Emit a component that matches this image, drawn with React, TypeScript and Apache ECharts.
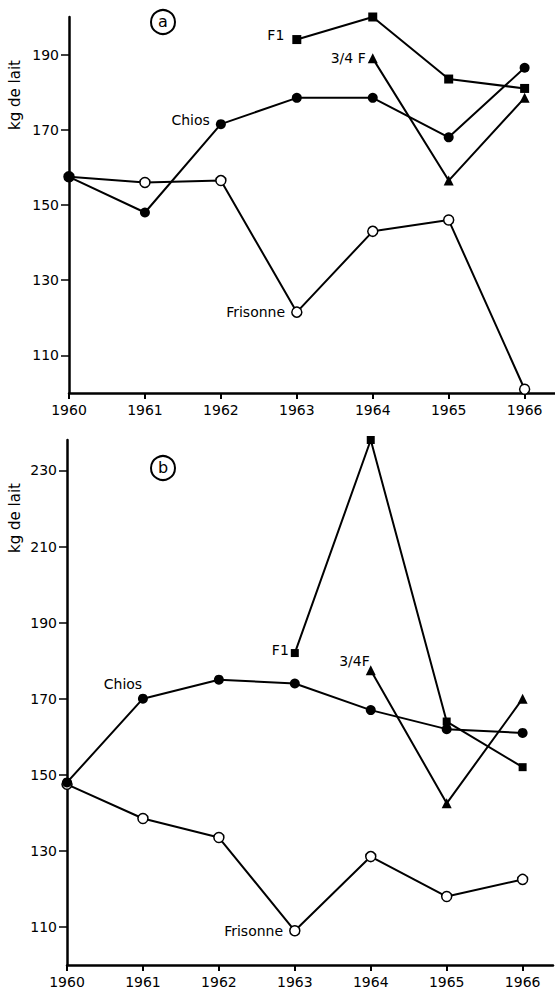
import React, { useEffect, useRef } from "react";
import * as echarts from "echarts";

const years = [1960, 1961, 1962, 1963, 1964, 1965, 1966];

// Panel a
const aChios = [157.5, 148, 171.5, 178.5, 178.5, 168, 186.5];
const aFrisonne = [157.5, 156, 156.5, 121.5, 143, 146, 101];
const aF1 = [null, null, null, 194, 200, 183.5, 181];
const aTroisQuartsF = [null, null, null, null, 189, 156.5, 178.5];
const yTicksA = [110, 130, 150, 170, 190];

// Panel b
const bChios = [148, 170, 175, 174, 167, 162, 161];
const bFrisonne = [147.5, 138.5, 133.5, 109, 128.5, 118, 122.5];
const bF1 = [null, null, null, 182, 238, 164, 152];
const bTroisQuartsF = [null, null, null, null, 177.5, 142.5, 170];
const yTicksB = [110, 130, 150, 170, 190, 210, 230];

const FONT = "DejaVu Sans";
const BLACK = "#000";

function makeSeries(
  name: string,
  values: (number | null)[],
  idx: number,
  symbol: string,
  size: number,
  open: boolean,
  labelIndex: number,
  labelText: string,
  labelOpts: any
) {
  const data: any[] = [];
  values.forEach((v, i) => {
    if (v === null) return;
    const item: any = { value: [years[i], v] };
    if (i === labelIndex) {
      item.label = {
        show: true,
        formatter: labelText,
        color: BLACK,
        fontSize: 14,
        fontFamily: FONT,
        ...labelOpts,
      };
    }
    data.push(item);
  });
  return {
    name,
    type: "line",
    xAxisIndex: idx,
    yAxisIndex: idx,
    data,
    symbol,
    symbolSize: size,
    showSymbol: true,
    clip: false,
    lineStyle: { color: BLACK, width: 2 },
    itemStyle: open
      ? { color: "#fff", borderColor: BLACK, borderWidth: 1.5 }
      : { color: BLACK, borderColor: BLACK, borderWidth: 0 },
    label: { show: false },
    z: open ? 2 : 3,
  };
}

function xAxis(gridIndex: number) {
  return {
    type: "value",
    gridIndex,
    min: 1960,
    max: 1966.4,
    axisLine: { show: true, lineStyle: { color: BLACK, width: 2.5 } },
    axisTick: {
      show: true,
      length: 6,
      customValues: years,
      lineStyle: { color: BLACK, width: 2 },
    },
    axisLabel: {
      customValues: years,
      formatter: (v: number) => String(v),
      color: BLACK,
      fontSize: 14,
      fontFamily: FONT,
      margin: 10,
    },
    splitLine: { show: false },
  };
}

function yAxis(gridIndex: number, min: number, max: number, ticks: number[]) {
  return {
    type: "value",
    gridIndex,
    min,
    max,
    axisLine: { show: true, lineStyle: { color: BLACK, width: 2.5 } },
    axisTick: {
      show: true,
      length: 8,
      customValues: ticks,
      lineStyle: { color: BLACK, width: 1.5 },
    },
    axisLabel: {
      customValues: ticks,
      formatter: (v: number) => String(v),
      color: BLACK,
      fontSize: 14,
      fontFamily: FONT,
      margin: 10,
    },
    splitLine: { show: false },
  };
}

export default function App() {
  const ref = useRef<HTMLDivElement>(null);
  useEffect(() => {
    if (!ref.current) return;
    const chart = echarts.init(ref.current, null, { renderer: "svg" });
    const option: any = {
      animation: false,
      backgroundColor: "#fff",
      grid: [
        { left: 69, top: 17, width: 486, height: 376 },
        { left: 67, top: 440, width: 486, height: 525 },
      ],
      xAxis: [xAxis(0), xAxis(1)],
      yAxis: [yAxis(0, 100, 200, yTicksA), yAxis(1, 100, 238, yTicksB)],
      series: [
        makeSeries("Frisonne", aFrisonne, 0, "circle", 10, true, 3, "Frisonne", { position: "left", distance: 6 }),
        makeSeries("Chios", aChios, 0, "circle", 10, false, 2, "Chios", { position: "left", distance: 6, offset: [0, -4] }),
        makeSeries("F1", aF1, 0, "rect", 9, false, 3, "F1", { position: "left", distance: 8, offset: [0, -5] }),
        makeSeries("3/4 F", aTroisQuartsF, 0, "triangle", 10, false, 4, "3/4 F", { position: "left", distance: 2 }),
        makeSeries("Frisonne", bFrisonne, 1, "circle", 10, true, 3, "Frisonne", { position: "left", distance: 6 }),
        makeSeries("Chios", bChios, 1, "circle", 10, false, 1, "Chios", { position: "top", distance: 3, offset: [-20, 0] }),
        makeSeries("F1", bF1, 1, "rect", 8, false, 3, "F1", { position: "left", distance: 2, offset: [0, -3] }),
        makeSeries("3/4F", bTroisQuartsF, 1, "triangle", 10, false, 4, "3/4F", { position: "left", distance: 0, offset: [4, -9] }),
      ],
      graphic: [
        { type: "circle", shape: { cx: 163, cy: 22, r: 12 }, style: { fill: "none", stroke: BLACK, lineWidth: 2 } },
        { type: "text", x: 163, y: 21, style: { text: "a", fontSize: 16, fontFamily: FONT, fill: BLACK, textAlign: "center", textVerticalAlign: "middle" } },
        { type: "circle", shape: { cx: 163, cy: 468, r: 12 }, style: { fill: "none", stroke: BLACK, lineWidth: 2 } },
        { type: "text", x: 163, y: 467, style: { text: "b", fontSize: 16, fontFamily: FONT, fill: BLACK, textAlign: "center", textVerticalAlign: "middle" } },
        { type: "text", x: 15, y: 95, rotation: Math.PI / 2, style: { text: "kg de lait", fontSize: 15, fontFamily: FONT, fill: BLACK, textAlign: "center", textVerticalAlign: "middle" } },
        { type: "text", x: 15, y: 518, rotation: Math.PI / 2, style: { text: "kg de lait", fontSize: 15, fontFamily: FONT, fill: BLACK, textAlign: "center", textVerticalAlign: "middle" } },
      ],
    };
    chart.setOption(option);
    return () => chart.dispose();
  }, []);
  return (
    <div
      ref={ref}
      style={{ position: "absolute", left: 0, top: 0, width: 555, height: 993 }}
    />
  );
}
